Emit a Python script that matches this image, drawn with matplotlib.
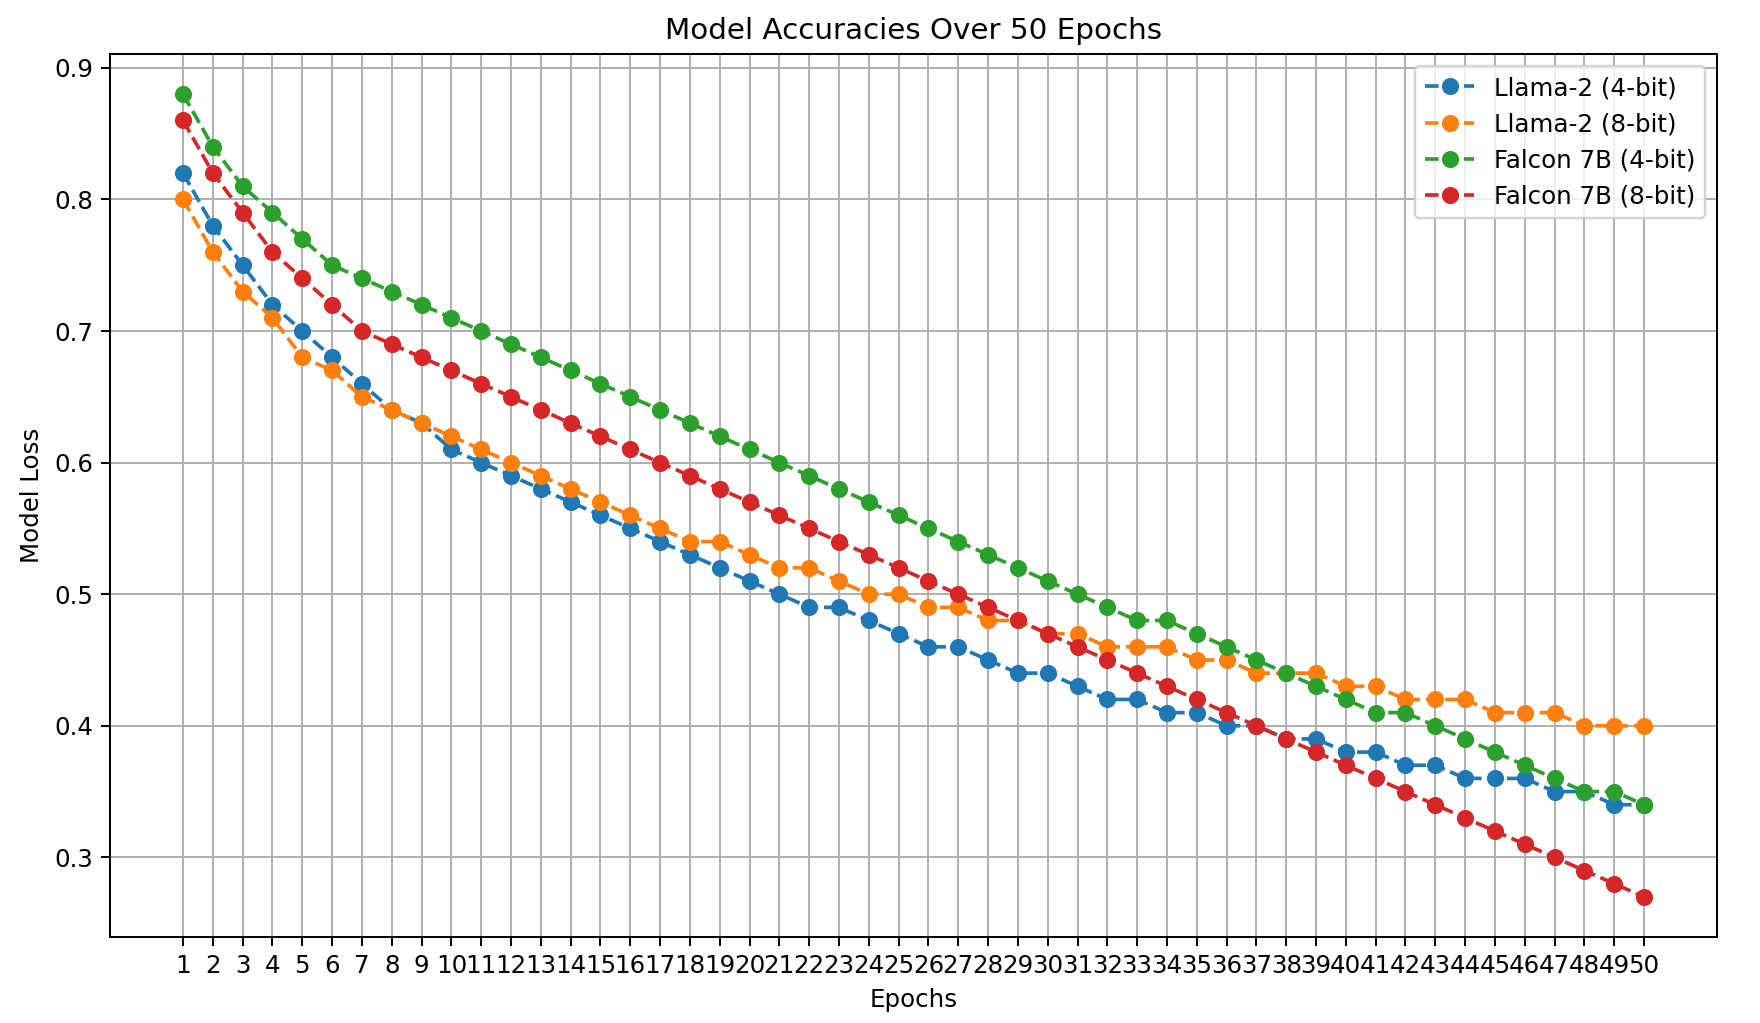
import matplotlib
matplotlib.use("Agg")
import matplotlib.pyplot as plt

# epochs and loss values
epochs = list(range(1, 51))

llama2_4bit = [0.82, 0.78, 0.75, 0.72, 0.70, 0.68, 0.66, 0.64, 0.63, 0.61,
               0.60, 0.59, 0.58, 0.57, 0.56, 0.55, 0.54, 0.53, 0.52, 0.51,
               0.50, 0.49, 0.49, 0.48, 0.47, 0.46, 0.46, 0.45, 0.44, 0.44,
               0.43, 0.42, 0.42, 0.41, 0.41, 0.40, 0.40, 0.39, 0.39, 0.38,
               0.38, 0.37, 0.37, 0.36, 0.36, 0.36, 0.35, 0.35, 0.34, 0.34]

llama2_8bit = [0.80, 0.76, 0.73, 0.71, 0.68, 0.67, 0.65, 0.64, 0.63, 0.62,
               0.61, 0.60, 0.59, 0.58, 0.57, 0.56, 0.55, 0.54, 0.54, 0.53,
               0.52, 0.52, 0.51, 0.50, 0.50, 0.49, 0.49, 0.48, 0.48, 0.47,
               0.47, 0.46, 0.46, 0.46, 0.45, 0.45, 0.44, 0.44, 0.44, 0.43,
               0.43, 0.42, 0.42, 0.42, 0.41, 0.41, 0.41, 0.40, 0.40, 0.40]

falcon_4bit = [0.88, 0.84, 0.81, 0.79, 0.77, 0.75, 0.74, 0.73, 0.72, 0.71,
               0.70, 0.69, 0.68, 0.67, 0.66, 0.65, 0.64, 0.63, 0.62, 0.61,
               0.60, 0.59, 0.58, 0.57, 0.56, 0.55, 0.54, 0.53, 0.52, 0.51,
               0.50, 0.49, 0.48, 0.48, 0.47, 0.46, 0.45, 0.44, 0.43, 0.42,
               0.41, 0.41, 0.40, 0.39, 0.38, 0.37, 0.36, 0.35, 0.35, 0.34]

falcon_8bit = [0.86, 0.82, 0.79, 0.76, 0.74, 0.72, 0.70, 0.69, 0.68, 0.67,
               0.66, 0.65, 0.64, 0.63, 0.62, 0.61, 0.60, 0.59, 0.58, 0.57,
               0.56, 0.55, 0.54, 0.53, 0.52, 0.51, 0.50, 0.49, 0.48, 0.47,
               0.46, 0.45, 0.44, 0.43, 0.42, 0.41, 0.40, 0.39, 0.38, 0.37,
               0.36, 0.35, 0.34, 0.33, 0.32, 0.31, 0.30, 0.29, 0.28, 0.27]

series = [("Llama-2 (4-bit)", llama2_4bit),
          ("Llama-2 (8-bit)", llama2_8bit),
          ("Falcon 7B (4-bit)", falcon_4bit),
          ("Falcon 7B (8-bit)", falcon_8bit)]

# default matplotlib styling, just rendered at a high dpi (10 x 5.8125 in at 176 dpi)
fig = plt.figure(figsize=(10, 5.8125), dpi=176)
ax = fig.add_axes([0.0625, 0.0841, 0.9131, 0.8631])

for name, vals in series:
    ax.plot(epochs, vals, linestyle="--", marker="o", label=name)

ax.set_title("Model Accuracies Over 50 Epochs")
ax.set_xlabel("Epochs")
ax.set_ylabel("Model Loss")
ax.set_xticks(epochs)
ax.grid(True)
ax.legend(loc="upper right")

fig.savefig("out.png", dpi=176)
